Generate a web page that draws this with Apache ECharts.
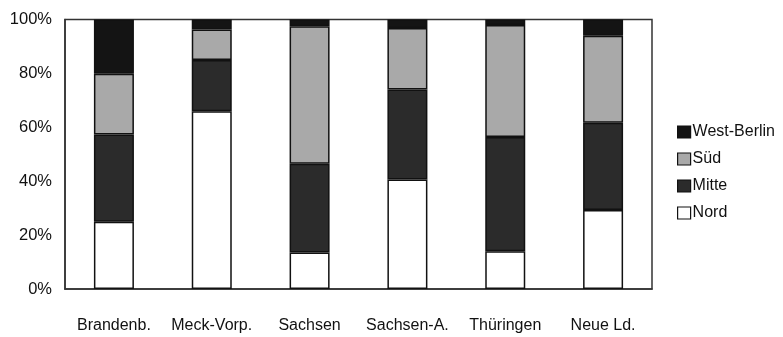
<!DOCTYPE html>
<html>
<head>
<meta charset="utf-8">
<script src="https://cdn.jsdelivr.net/npm/echarts@6/dist/echarts.min.js"></script>
<style>html,body{margin:0;padding:0;background:#fff}#c{width:783px;height:337px}</style>
</head>
<body>
<div id="c"></div>
<script>
var categories = ['Brandenb.', 'Meck-Vorp.', 'Sachsen', 'Sachsen-A.', 'Thüringen', 'Neue Ld.'];
var nord = [25, 66, 13.5, 40.6, 14, 29.3];
var mitte = [32.3, 19, 33, 33.4, 42.4, 32.4];
var sued = [22.6, 11.3, 51, 22.8, 41.6, 32.3];
var westBerlin = [20.1, 3.7, 2.5, 3.2, 2, 6];
var yTicks = ['0%', '20%', '40%', '60%', '80%', '100%'];

var chart = echarts.init(document.getElementById('c'), null, {renderer: 'canvas'});
function s(name, data, color) {
  return {
    name: name, type: 'bar', stack: 'all', data: data, barWidth: 40,
    itemStyle: {color: color, borderColor: '#111', borderWidth: 1.5},
    emphasis: {disabled: true}
  };
}
chart.setOption({
  animation: false,
  textStyle: {fontFamily: 'Liberation Sans, Arial, sans-serif'},
  grid: {left: 65, right: 131, top: 19.5, bottom: 48, show: true, borderColor: '#333', borderWidth: 1.5, backgroundColor: 'transparent'},
  legend: {
    orient: 'vertical', left: 677, top: 124, padding: 0, itemWidth: 13, itemHeight: 12, itemGap: 11,
    icon: 'rect',
    data: ['West-Berlin', 'Süd', 'Mitte', 'Nord'],
    textStyle: {fontSize: 16, color: '#111', padding: [0, 0, 0, -3]},
    itemStyle: {borderColor: '#111', borderWidth: 1.2}
  },
  xAxis: {
    type: 'category', data: categories,
    axisLine: {show: true, lineStyle: {color: '#333', width: 1.5}},
    axisTick: {show: false},
    axisLabel: {fontSize: 16, color: '#111', margin: 29, interval: 0}
  },
  yAxis: {
    type: 'value', min: 0, max: 100, interval: 20,
    splitLine: {show: false},
    axisLine: {show: true, lineStyle: {color: '#333', width: 1.5}},
    axisTick: {show: false},
    axisLabel: {fontSize: 16.5, color: '#111', margin: 13, formatter: function (v) { return yTicks[Math.round(v / 20)]; }}
  },
  series: [
    s('Nord', nord, '#ffffff'),
    s('Mitte', mitte, '#2b2b2b'),
    s('Süd', sued, '#a9a9a9'),
    s('West-Berlin', westBerlin, '#141414')
  ]
});
</script>
</body>
</html>
